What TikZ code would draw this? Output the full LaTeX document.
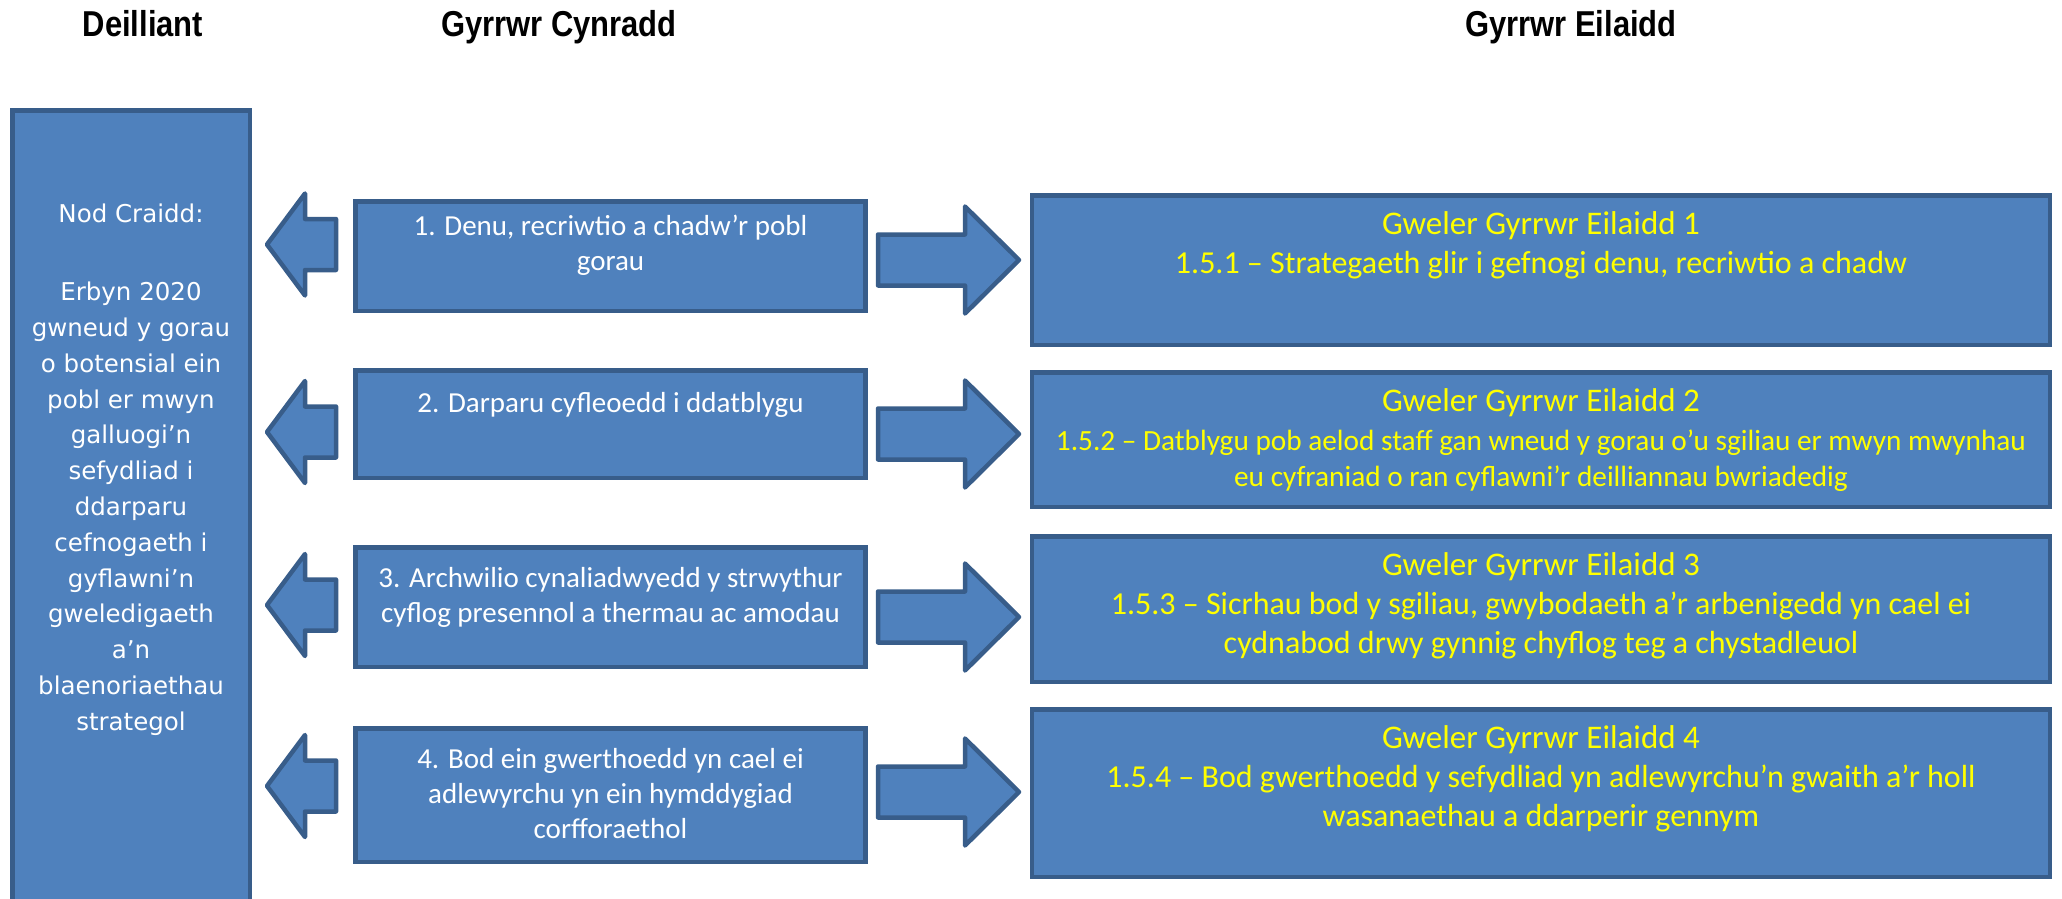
\documentclass[tikz,border=0pt]{standalone}
\usepackage{fontspec}
\usepackage{graphicx}
\setmainfont{Carlito}
\newfontfamily\headfont{Liberation Sans}
\newfontfamily\aimfont{DejaVu Sans}
\usetikzlibrary{positioning}
\definecolor{Fill}{HTML}{4F81BD}
\definecolor{Edge}{HTML}{385D8A}
\definecolor{Note}{HTML}{FFFF00}
\newcommand{\headtext}[1]{\scalebox{0.86}[1]{#1}}
\newcommand{\seetitle}{\fontsize{33pt}{39pt}\selectfont}
\newcommand{\tightline}{\fontsize{29.3pt}{35.5pt}\selectfont}

\begin{document}
\begin{tikzpicture}[x=1pt,y=-1pt,
      head/.style={anchor=base,font=\headfont\bfseries\fontsize{36pt}{40pt}\selectfont},
      box/.style={draw=Edge,fill=Fill,line width=4.5pt,outer sep=0pt,inner sep=0pt},
      drvbox/.style={box,minimum width=510pt},
      secbox/.style={box,minimum width=1018pt},
      drvtext/.style={text=white,align=center,inner sep=0pt,
        font=\fontsize{29pt}{35pt}\selectfont,execute at begin node=\rule{0pt}{0.75em}},
      sectext/.style={text=Note,align=center,inner sep=0pt,
        font=\fontsize{32pt}{39pt}\selectfont,execute at begin node=\rule{0pt}{0.75em}},
      aimtext/.style={text=white,align=center,inner sep=0pt,anchor=north,
        font=\aimfont\fontsize{24.5pt}{35.8pt}\selectfont,execute at begin node=\rule{0pt}{0.75em}},
      block/.style={draw=Edge,fill=Fill,line width=4.5pt,line join=round}
    ]
      \clip (0,0) rectangle (2062,899);
      \node[head] (h-out) at (143,37) {\headtext{Deilliant}};
      \node[head] (h-prim) at (559,37) {\headtext{Gyrrwr Cynradd}};
      \node[head] (h-sec) at (1571,37) {\headtext{Gyrrwr Eilaidd}};

      \node[box,minimum width=237.5pt,minimum height=837.5pt] (aim) at (131,529) {};
      \node[aimtext] (aim-t) at (131,204) {Nod Craidd:\\[42pt]Erbyn 2020\\gwneud y gorau\\o botensial ein\\pobl er mwyn\\galluogi’n\\sefydliad i\\ddarparu\\cefnogaeth i\\gyflawni’n\\gweledigaeth\\a’n\\blaenoriaethau\\strategol};

      \node[drvbox,minimum height=109.5pt] (drv1) at (610.5,256) {};
      \node[drvbox,minimum height=107.5pt] (drv2) at (610.5,424) {};
      \node[drvbox,minimum height=119.5pt] (drv3) at (610.5,607) {};
      \node[drvbox,minimum height=133.5pt] (drv4) at (610.5,795) {};
      \node[drvtext,below=14pt of drv1.north] (drv1-t) {1. Denu, recriwtio a chadw’r pobl\\gorau};
      \node[drvtext,below=20pt of drv2.north] (drv2-t) {2. Darparu cyfleoedd i ddatblygu};
      \node[drvtext,below=20pt of drv3.north] (drv3-t) {3. Archwilio cynaliadwyedd y strwythur\\cyflog presennol a thermau ac amodau};
      \node[drvtext,below=20pt of drv4.north] (drv4-t) {4. Bod ein gwerthoedd yn cael ei\\adlewyrchu yn ein hymddygiad\\corfforaethol};

      \node[secbox,minimum height=149.5pt] (sec1) at (1541,270) {};
      \node[secbox,minimum height=134.5pt] (sec2) at (1541,439.5) {};
      \node[secbox,minimum height=145.5pt] (sec3) at (1541,609) {};
      \node[secbox,minimum height=167.5pt] (sec4) at (1541,793) {};
      \node[sectext,below=16.5pt of sec1.north] (sec1-t) {\seetitle Gweler Gyrrwr Eilaidd 1\\1.5.1 – Strategaeth glir i gefnogi denu, recriwtio a chadw};
      \node[sectext,below=16.5pt of sec2.north] (sec2-t) {\seetitle Gweler Gyrrwr Eilaidd 2\\\tightline 1.5.2 – Datblygu pob aelod staff gan wneud y gorau o’u sgiliau er mwyn mwynhau\\[-3.5pt]\tightline eu cyfraniad o ran cyflawni’r deilliannau bwriadedig};
      \node[sectext,below=16.5pt of sec3.north] (sec3-t) {\seetitle Gweler Gyrrwr Eilaidd 3\\1.5.3 – Sicrhau bod y sgiliau, gwybodaeth a’r arbenigedd yn cael ei\\cydnabod drwy gynnig chyflog teg a chystadleuol};
      \node[sectext,below=16.5pt of sec4.north] (sec4-t) {\seetitle Gweler Gyrrwr Eilaidd 4\\1.5.4 – Bod gwerthoedd y sefydliad yn adlewyrchu’n gwaith a’r holl\\wasanaethau a ddarperir gennym};

      \foreach \ly/\ry in {244.5/260,432/434,605/617,786/792}{
        \draw[block] (267,\ly) -- (305,\ly-51) -- (305,\ly-25.5) -- (336,\ly-25.5)
          -- (336,\ly+25.5) -- (305,\ly+25.5) -- (305,\ly+51) -- cycle;
        \draw[block] (878,\ry-25.5) -- (965,\ry-25.5) -- (965,\ry-53.5) -- (1019,\ry)
          -- (965,\ry+53.5) -- (965,\ry+25.5) -- (878,\ry+25.5) -- cycle;
      }
    \end{tikzpicture}
\end{document}
